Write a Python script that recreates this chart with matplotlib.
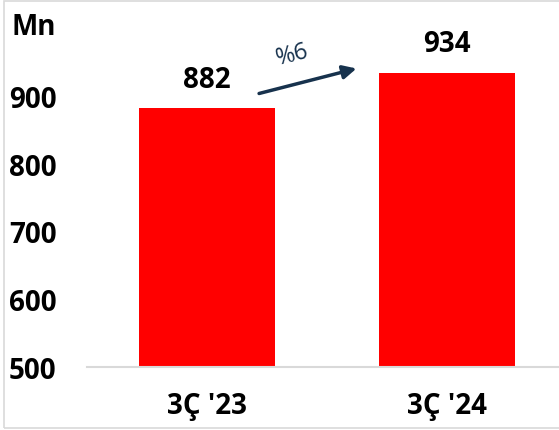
import matplotlib
matplotlib.use("Agg")
import matplotlib.pyplot as plt
from matplotlib.patches import Rectangle

# Quarterly values (Mn)
categories = ["3Ç '23", "3Ç '24"]
values = [882, 934]
yticks = [500, 600, 700, 800, 900]
growth_label = "%6"

plt.rcParams['font.family'] = ['Open Sans', 'DejaVu Sans']

fig = plt.figure(figsize=(5.59, 4.31), dpi=100)
W, H = 559, 431

# light frame around the chart area
fig.patches.append(Rectangle((4 / W, 2 / H), 1.2, (429 - 2) / H, transform=fig.transFigure,
                             fill=False, edgecolor='#d9d9d9', linewidth=1.2, zorder=0))

ax = fig.add_axes([87 / W, (H - 368) / H, 1 - 87 / W, (368 - 29.25) / H])
x = list(range(len(categories)))
bars = ax.bar(x, values, width=0.567, color='#ff0000', zorder=2)
ax.set_ylim(500, 1000)
ax.set_xlim(-0.5, -0.5 + (W - 87) / 240)

for s in ['top', 'right', 'left']:
    ax.spines[s].set_visible(False)
ax.spines['bottom'].set_color('#d9d9d9')
ax.spines['bottom'].set_linewidth(1.5)

FS = 20
ax.set_yticks(yticks)
ax.set_yticklabels([str(t) for t in yticks], fontsize=FS, fontweight='bold')
ax.set_xticks(x)
ax.set_xticklabels(categories, fontsize=FS, fontweight='bold')
ax.tick_params(axis='y', length=0, pad=22)
ax.tick_params(axis='x', length=0, pad=17)

for b, v in zip(bars, values):
    ax.annotate(f"{v}", (b.get_x() + b.get_width() / 2, v), xytext=(0, 10.5),
                textcoords='offset points', ha='center', va='bottom',
                fontsize=FS, fontweight='bold', color='black')

# growth arrow between the two bars
ax.annotate('', xy=(0.623, 940.6), xytext=(0.217, 903.7),
            arrowprops=dict(arrowstyle='-|>', color='#17324d', lw=2.5,
                            mutation_scale=20, shrinkA=0, shrinkB=0))
ax.text(0.354, 962, growth_label, rotation=14, ha='center', va='center',
        fontsize=17, color='#17324d')

fig.text(11 / W, 1 - 28 / H, "Mn", fontsize=FS, fontweight='bold', va='center', ha='left')

fig.savefig("out.png", dpi=100)
